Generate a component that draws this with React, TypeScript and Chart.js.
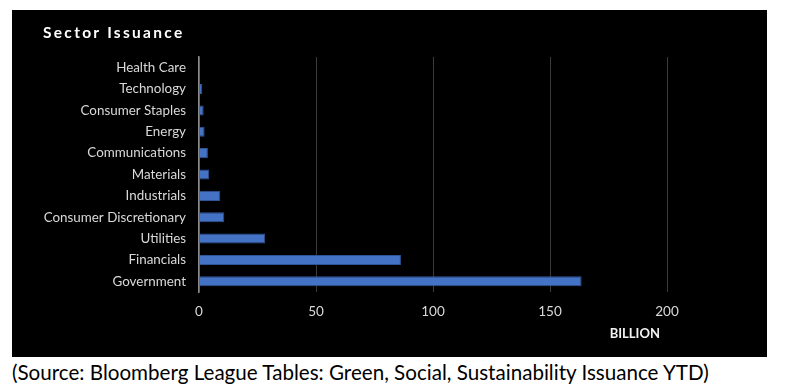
import React, { useEffect, useRef } from "react";
import { Chart, registerables } from "chart.js";

Chart.register(...registerables);

const categories = [
  "Health Care",
  "Technology",
  "Consumer Staples",
  "Energy",
  "Communications",
  "Materials",
  "Industrials",
  "Consumer Discretionary",
  "Utilities",
  "Financials",
  "Government",
];
const issuance = [0.2, 1.4, 2.0, 2.4, 3.8, 4.4, 9.1, 10.8, 28.3, 86.3, 163.5];
const xTicks = [0, 50, 100, 150, 200];
const titleText = "Sector Issuance";
const axisTitle = "BILLION";
const sourceText = "(Source: Bloomberg League Tables: Green, Social, Sustainability Issuance YTD)";

const axisTitlePlugin = {
  id: "axisTitle",
  afterDraw(chart: any) {
    const x = chart.scales.x;
    const ctx = chart.ctx;
    ctx.save();
    ctx.fillStyle = "#f2f2f2";
    ctx.font = "bold 13px Lato";
    ctx.textAlign = "right";
    ctx.textBaseline = "middle";
    ctx.fillText(axisTitle, x.getPixelForValue(197), x.top + 42);
    ctx.restore();
  },
};

export default function App() {
  const ref = useRef<HTMLCanvasElement>(null);
  useEffect(() => {
    if (!ref.current) return;
    const chart = new Chart(ref.current, {
      type: "bar",
      data: {
        labels: categories,
        datasets: [
          {
            data: issuance,
            backgroundColor: "#4472C4",
            borderColor: "#2F5597",
            borderWidth: 1,
            categoryPercentage: 0.94,
            barPercentage: 0.5,
          },
        ],
      },
      options: {
        indexAxis: "y",
        responsive: false,
        animation: false,
        maintainAspectRatio: false,
        layout: { padding: { top: 47, right: 100, left: 0, bottom: 0 } },
        plugins: { legend: { display: false }, tooltip: { enabled: false }, title: { display: false } },
        scales: {
          x: {
            min: 0,
            max: 200,
            afterFit: (s: any) => {
              s.height = 65;
            },
            afterBuildTicks: (s: any) => {
              s.ticks = xTicks.map((v) => ({ value: v }));
            },
            grid: { color: "#3a3a3a", drawTicks: false, lineWidth: 1 },
            border: { display: false },
            ticks: { color: "#d9d9d9", font: { family: "Lato", size: 13.5 }, padding: 12 },
          },
          y: {
            afterFit: (s: any) => {
              s.width = 187;
            },
            grid: { display: false, drawTicks: false },
            border: { display: true, color: "#8c8c8c", width: 1.5 },
            ticks: { color: "#d9d9d9", font: { family: "Lato", size: 13.4 }, padding: 13 },
          },
        },
      },
      plugins: [axisTitlePlugin],
    });
    return () => chart.destroy();
  }, []);
  return (
    <div style={{ fontFamily: "Lato" }}>
      <div
        style={{
          position: "relative",
          marginLeft: 4,
          marginTop: 2,
          width: 755,
          height: 347,
          background: "#000",
        }}
      >
        <div
          style={{
            position: "absolute",
            left: 31,
            top: 13,
            color: "#fff",
            fontWeight: "bold",
            fontSize: 15.5,
            letterSpacing: 2.3,
            fontFamily: "Lato",
          }}
        >
          {titleText}
        </div>
        <canvas ref={ref} width={755} height={347} style={{ display: "block" }} />
      </div>
      <div style={{ marginLeft: 4, marginTop: 3, fontSize: 20.6, color: "#000", fontFamily: "Lato" }}>
        {sourceText}
      </div>
    </div>
  );
}
